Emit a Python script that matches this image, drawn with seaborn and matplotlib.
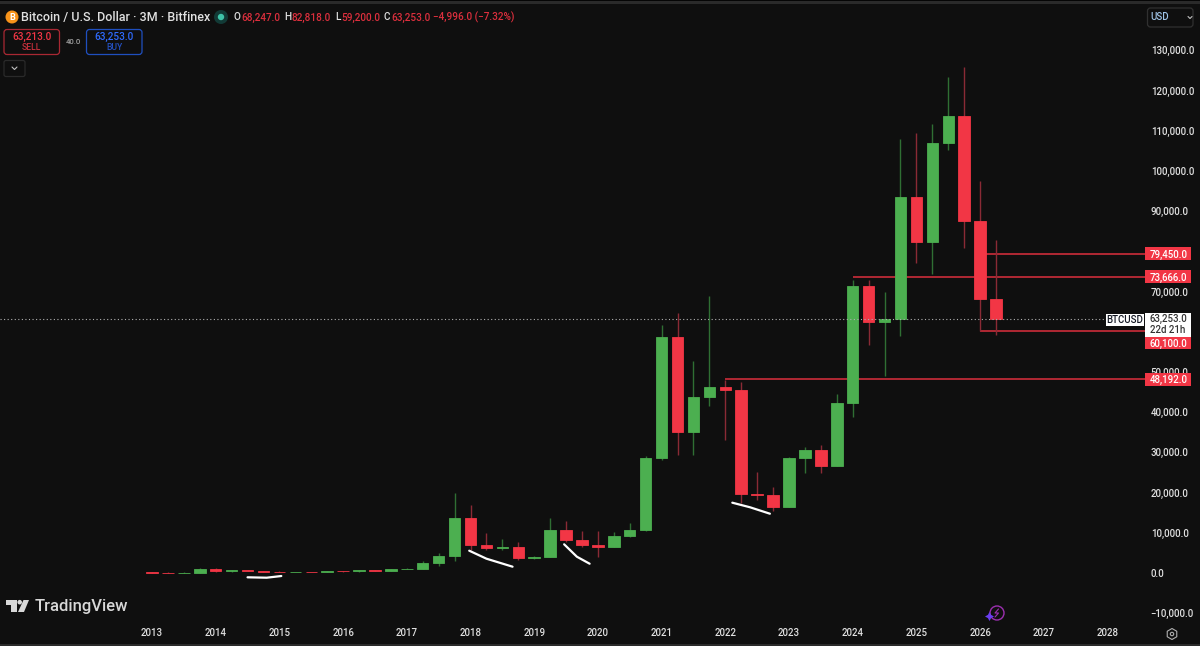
import matplotlib
matplotlib.use("Agg")
import matplotlib.pyplot as plt
import pandas as pd
import seaborn as sns
from matplotlib.patches import Circle, FancyBboxPatch, Polygon, Rectangle, RegularPolygon

# ---------- data ----------
years = [2013 + q * 0.25 for q in range(54)]
opens = [130, 75, 65, 100, 900, 450, 640, 390, 320, 240, 265, 236, 430, 416, 670, 608, 966, 1070, 2480, 4350,
         13700, 6900, 6100, 6400, 3700, 4100, 10700, 8200, 7000, 6400, 9150, 10700,
         28700, 58700, 35000, 43800, 46200, 45500, 19700, 19400, 16500, 28500, 30500, 26500,
         42200, 71300, 62500, 63300, 93500, 82300, 106900, 113800, 87500, 68247]
closes = [75, 65, 100, 900, 450, 640, 390, 320, 240, 265, 236, 430, 416, 670, 608, 966, 1070, 2480, 4350, 13700,
          6900, 6100, 6400, 3700, 4100, 10700, 8200, 7000, 6400, 9150, 10700, 28700,
          58700, 35000, 43800, 46200, 45500, 19700, 19400, 16500, 28500, 30500, 26500, 42200,
          71300, 62500, 63300, 93500, 82300, 106900, 113800, 87500, 68200, 63253]
highs = [200, 260, 140, 1160, 1170, 680, 660, 430, 420, 310, 320, 500, 480, 780, 780, 1000, 1290, 3000, 5000, 19800,
         17000, 9900, 8400, 7600, 4200, 13800, 13000, 10500, 10500, 10300, 12400, 29000,
         61600, 64700, 52800, 68800, 48100, 47400, 25200, 21300, 28900, 31400, 31800, 44600,
         73000, 72800, 70000, 108000, 109500, 111700, 123300, 125800, 97600, 82818]
lows = [40, 50, 60, 90, 170, 350, 380, 280, 180, 200, 200, 200, 360, 360, 470, 470, 880, 890, 1850, 2900,
        5800, 5800, 5800, 3200, 3400, 4000, 7700, 6500, 4000, 6400, 8900, 10400,
        28000, 29300, 29300, 41500, 33000, 17500, 18100, 15500, 16300, 24800, 24900, 26500,
        38900, 56600, 48900, 58900, 77100, 74400, 105300, 80900, 60100, 59200]
year_ticks = list(range(2013, 2029))
price_ticks = list(range(-10000, 130001, 10000))
hidden_price_ticks = [60000]
ray_prices = [79450, 73666, 60100, 48192]
ray_starts = [2026.0, 2024.0, 2026.0, 2022.0]
tag_labels = ["79,450.0", "73,666.0", "60,100.0", "48,192.0"]
tag_prices = [79450, 73666, 57200, 48192]
last_price = 63253
strokes = [
    ([2014.50, 2014.80, 2015.03], [-1070, -1170, -750]),
    ([2017.98, 2018.25, 2018.66], [5550, 3560, 1570]),
    ([2019.47, 2019.67, 2019.87], [7140, 4050, 2310]),
    ([2022.11, 2022.39, 2022.70], [17490, 16340, 14750]),
]

BG = "#0f0f0f"
UP = "#4caf50"
DOWN = "#f23645"
UP_WICK = "#2f6f33"
DOWN_WICK = "#8a2a35"
TXT = "#e0e0e0"
FW = 500
W, H = 1200, 646

sns.set_theme(style="dark", rc={"axes.facecolor": BG, "figure.facecolor": BG})
plt.rcParams["font.family"] = ["Roboto", "DejaVu Sans"]
plt.rcParams["font.weight"] = FW

df = pd.DataFrame({"year": years, "open": opens, "close": closes, "high": highs, "low": lows})
df["bottom"] = df[["open", "close"]].min(axis=1)
df["body"] = (df["close"] - df["open"]).abs()
df["rising"] = df["close"] >= df["open"]

fig = plt.figure(figsize=(12, 6.46), dpi=100, facecolor=BG)
AX_L, AX_R, AX_T, AX_B = 0, 1146, 4, 622
ax = fig.add_axes([AX_L / W, 1 - AX_B / H, (AX_R - AX_L) / W, (AX_B - AX_T) / H], facecolor=BG)

# rays sit behind the candles
x_right = 2013 + (AX_R - 152) / 63.7
for p, s in zip(ray_prices, ray_starts):
    ax.plot([s, x_right], [p, p], color="#dc2f3d", lw=1.1, zorder=1, solid_capstyle="butt")

for rising, wick in [(True, UP_WICK), (False, DOWN_WICK)]:
    part = df[df["rising"] == rising]
    ax.vlines(part["year"], part["low"], part["high"], color=wick, lw=1.0, zorder=1.5)

for rising, col in [(True, UP), (False, DOWN)]:
    part = df[df["rising"] == rising].sort_values("year")
    sns.barplot(data=part, x="year", y="body", bottom=part["bottom"].to_numpy(), native_scale=True,
                color=col, saturation=1, width=0.72, errorbar=None, edgecolor=col, linewidth=0.6,
                zorder=2, ax=ax)

for xs, ys in strokes:
    ax.plot(xs, ys, color="white", lw=1.6, zorder=3, solid_capstyle="round", solid_joinstyle="round")

ax.plot([2013 + (0 - 152) / 63.7, 2013 + (1106 - 152) / 63.7], [last_price, last_price],
        color="#b0b0b0", lw=0.8, ls=(0, (1, 2.2)), zorder=2.5)

ax.set_xlim(2013 - 152 / 63.7, x_right)
ax.set_ylim((573 - AX_B) / 0.00402, (573 - AX_T) / 0.00402)
ax.grid(False)
sns.despine(ax=ax, left=True, bottom=True, right=True, top=True)
ax.set_xlabel("")
ax.set_ylabel("")
ax.set_axisbelow(True)
ax.set_xticks(year_ticks)
ax.set_xticklabels([str(y) for y in year_ticks], fontweight=FW)
ax.yaxis.tick_right()
ax.set_yticks(price_ticks)
ax.set_yticklabels(["" if v in hidden_price_ticks else f"{v:,.1f}".replace("-", "\u2212") for v in price_ticks],
                   fontweight=FW)
ax.tick_params(axis="x", length=0, pad=4.5, labelsize=6.9, labelcolor=TXT)
ax.tick_params(axis="y", length=0, pad=3.4, labelsize=6.9, labelcolor=TXT)

# price tags on the price scale
tr = ax.get_yaxis_transform()
tag_w = 45.7 / (AX_R - AX_L)
tag_h = 12.8 / 0.00402
tag_mid = 1 + tag_w / 2
for lab, p in zip(tag_labels, tag_prices):
    ax.add_patch(Rectangle((1 - 1 / 1146, p - tag_h / 2), tag_w, tag_h, transform=tr, color=DOWN,
                           clip_on=False, zorder=4, lw=0))
    ax.text(tag_mid, p, lab, transform=tr, color="white", fontsize=6.9, ha="center", va="center_baseline",
            clip_on=False, zorder=5)

ov = fig.add_axes([0, 0, 1, 1], facecolor="none")
ov.set_xlim(0, W)
ov.set_ylim(H, 0)
ov.axis("off")

# frame strips
ov.add_patch(Rectangle((0, 0), W, 1, color="#050505", lw=0))
ov.add_patch(Rectangle((0, 1), W, 2.5, color="#2a2a2a", lw=0))
ov.add_patch(Rectangle((0, 644), W, 2, color="#2a2a2a", lw=0))

# last price box
ov.add_patch(Rectangle((1145, 313), 45.7, 24, color="white", lw=0, zorder=4))
ov.add_patch(Rectangle((1106, 313.5), 38, 12.8, color="white", lw=0, zorder=4))
ov.text(1125, 320, "BTCUSD", color="#131722", fontsize=6.9, ha="center", va="center", zorder=5)
ov.text(1168, 319, "63,253.0", color="#333333", fontsize=6.9, ha="center", va="center", zorder=5)
ov.text(1168, 330, "22d 21h", color="#333333", fontsize=6.9, ha="center", va="center", zorder=5)

# header
ov.add_patch(Circle((12, 17), 6.5, color="#f7931a", lw=0))
ov.text(12, 17, "B", color="white", fontsize=6.5, fontweight="bold", ha="center", va="center")
ov.text(21, 17.5, "Bitcoin / U.S. Dollar \u00b7 3M \u00b7 Bitfinex", color=TXT, fontsize=9.0, ha="left", va="center")
ov.add_patch(Circle((221, 17), 7, color="#123a36", lw=0))
ov.add_patch(Circle((221, 17), 3.2, color="#3fc3a8", lw=0))
for x_l, l, x_v, v in [(234, "O", 241, "68,247.0"), (284, "H", 291.5, "82,818.0"),
                       (335, "L", 341, "59,200.0"), (384, "C", 391, "63,253.0")]:
    ov.text(x_l, 17.5, l, color=TXT, fontsize=7.2, ha="left", va="center")
    ov.text(x_v, 17.5, v, color="#dc2f3d", fontsize=7.2, ha="left", va="center")
ov.text(433, 17.5, "\u22124,996.0 (\u22127.32%)", color="#dc2f3d", fontsize=7.2, ha="left", va="center")

# sell / buy buttons
for x0, edge, c1, c2, val, lab in [(4, "#a92833", DOWN, "#c9303c", "63,213.0", "SELL"),
                                   (86.5, "#1f4fbf", "#2f6bff", "#2450c0", "63,253.0", "BUY")]:
    ov.add_patch(FancyBboxPatch((x0, 29.5), 55.5, 25, boxstyle="round,pad=0,rounding_size=3",
                                fc=BG, ec=edge, lw=0.9))
    ov.text(x0 + 27.7, 36.8, val, color=c1, fontsize=7.2, ha="center", va="center")
    ov.text(x0 + 27.7, 47.5, lab, color=c2, fontsize=6.2, ha="center", va="center")
ov.text(73, 42, "40.0", color="#a0a0a0", fontsize=5.6, ha="center", va="center")
ov.add_patch(FancyBboxPatch((4, 60.5), 21, 16, boxstyle="round,pad=0,rounding_size=2",
                            fc=BG, ec="#2a2a2a", lw=0.9))
ov.plot([12, 14.5, 17], [67, 69.5, 67], color="#c0c0c0", lw=0.8)

# currency box
ov.add_patch(FancyBboxPatch((1147.5, 8), 45.5, 19, boxstyle="round,pad=0,rounding_size=3",
                            fc=BG, ec="#303030", lw=0.9))
ov.text(1150, 17.5, "USD", color="#9fc3e6", fontsize=7, ha="left", va="center")
ov.plot([1188, 1190, 1192], [16.5, 18.5, 16.5], color="#c0c0c0", lw=0.8)

# TradingView mark
ov.add_patch(Polygon([(6, 600), (17, 600), (17, 612), (11, 612), (11, 604.5), (6, 604.5)], fc="#d8d8d8", lw=0))
ov.add_patch(Circle((19.7, 602.2), 2.3, color="#d8d8d8", lw=0))
ov.add_patch(Polygon([(23.5, 600), (29, 600), (24, 612), (18, 612)], fc="#d8d8d8", lw=0))
ov.text(34.5, 606, "TradingView", color="#d8d8d8", fontsize=12.0, fontweight="medium", ha="left", va="center")

# settings hexagon
ov.add_patch(RegularPolygon((1172, 634), 6, radius=5.5, fc="none", ec="#b0b0b0", lw=0.8))
ov.add_patch(Circle((1172, 634), 1.7, fc="none", ec="#b0b0b0", lw=0.8))

# purple badge
ov.add_patch(Circle((997, 613), 7, fc="none", ec="#9c2fb0", lw=1.0))
ov.plot([998.5, 995, 998.5, 995], [609, 613, 613, 617], color="#9c2fb0", lw=0.8)
ov.plot([988.5], [616], marker=(4, 1, 0), color="#6a3df0", ms=6.5, mew=0)

fig.savefig("out.png", dpi=100, facecolor=BG)
